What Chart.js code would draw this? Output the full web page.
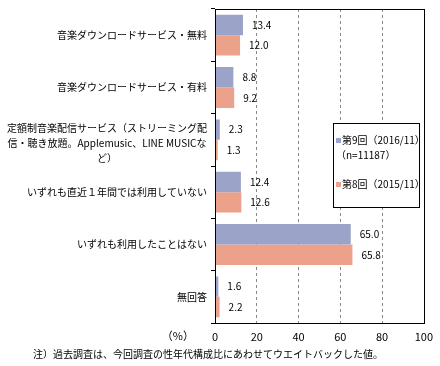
<!DOCTYPE html>
<html>
<head>
<meta charset="utf-8">
<script src="https://cdn.jsdelivr.net/npm/chart.js@4/dist/chart.umd.min.js"></script>
<style>
  body { margin: 0; background: #fff; }
  #wrap { position: relative; width: 440px; height: 366px; }
  #legend {
    position: absolute; left: 333px; top: 123px; width: 85px; height: 83px;
    border: 1px solid #000; background: #fff;
    font: 10px "Noto Sans CJK JP", sans-serif; color: #000;
  }
  #legend .item { position: absolute; left: 2px; line-height: 15px; white-space: nowrap; }
  #legend .sw { display: inline-block; width: 5px; height: 5px; margin-right: 1px; vertical-align: 1px; }
</style>
</head>
<body>
<div id="wrap">
  <canvas id="chart" width="440" height="366"></canvas>
  <div id="legend"></div>
</div>
<script>
// categories (top to bottom)
var categories = [
    '音楽ダウンロードサービス・無料',
    '音楽ダウンロードサービス・有料',
    ['定額制音楽配信サービス（ストリーミング配', '信・聴き放題。Applemusic、LINE MUSICな', 'ど）'],
    'いずれも直近１年間では利用していない',
    'いずれも利用したことはない',
    '無回答'
];
var seriesNames = [['第9回（2016/11）', '（n=11187）'], ['第8回（2015/11）']];
var round9 = [13.4, 8.8, 2.3, 12.4, 65.0, 1.6];
var round8 = [12.0, 9.2, 1.3, 12.6, 65.8, 2.2];
var xTicks = [0, 20, 40, 60, 80, 100];
var colors = ['#9BA3C9', '#ECA18B'];
var note = '注）過去調査は、今回調査の性年代構成比にあわせてウエイトバックした値。';

var FONT = '"Noto Sans CJK JP", sans-serif';

// legend in the plot (html)
var lg = document.getElementById('legend');
var tops = [8, 52];
seriesNames.forEach(function (lines, i) {
    var d = document.createElement('div');
    d.className = 'item';
    d.style.top = tops[i] + 'px';
    d.innerHTML = '<span class="sw" style="background:' + colors[i] + '"></span>' + lines.join('<br>');
    lg.appendChild(d);
});

var extras = {
    id: 'extras',
    afterDatasetsDraw: function (chart) {
        var ctx = chart.ctx, a = chart.chartArea, ys = chart.scales.y;
        ctx.save();
        // frame
        ctx.strokeStyle = '#000';
        ctx.lineWidth = 1;
        ctx.strokeRect(Math.round(a.left) + 0.5, Math.round(a.top) + 0.5,
            Math.round(a.right - a.left), Math.round(a.bottom - a.top));
        ctx.fillStyle = '#000';
        ctx.textBaseline = 'middle';
        // category labels (multi-line ones are centred as a block)
        ctx.font = '10px ' + FONT;
        var rightX = a.left - 8;
        chart.data.labels.forEach(function (lab, i) {
            var lines = Array.isArray(lab) ? lab : [lab];
            var cy = ys.getPixelForValue(i);
            if (lines.length === 1) {
                ctx.textAlign = 'right';
                ctx.fillText(lines[0], rightX, cy);
                return;
            }
            var w = Math.max.apply(null, lines.map(function (l) { return ctx.measureText(l).width; }));
            var cx = rightX - w / 2, lh = 15;
            ctx.textAlign = 'center';
            lines.forEach(function (l, k) {
                ctx.fillText(l, cx, cy + 3 + (k - (lines.length - 1) / 2) * lh);
            });
        });
        // values
        ctx.textAlign = 'left';
        chart.data.datasets.forEach(function (ds, di) {
            chart.getDatasetMeta(di).data.forEach(function (bar, i) {
                ctx.fillText(ds.data[i].toFixed(1), bar.x + 9, bar.y);
            });
        });
        // unit + note
        ctx.font = '11px ' + FONT;
        ctx.textAlign = 'right';
        ctx.fillText('（%）', 194, 336);
        ctx.font = '10px ' + FONT;
        ctx.textAlign = 'left';
        ctx.fillText(note, 33, 354);
        ctx.restore();
    }
};

new Chart(document.getElementById('chart'), {
    type: 'bar',
    data: {
        labels: categories,
        datasets: [
            {label: seriesNames[0].join(''), data: round9, backgroundColor: colors[0]},
            {label: seriesNames[1].join(''), data: round8, backgroundColor: colors[1]}
        ]
    },
    options: {
        indexAxis: 'y',
        responsive: false,
        animation: false,
        layout: {padding: {left: 0, right: 9, top: 9, bottom: 21}},
        datasets: {bar: {categoryPercentage: 0.78, barPercentage: 1}},
        plugins: {legend: {display: false}, tooltip: {enabled: false}},
        scales: {
            x: {
                min: 0, max: 100,
                afterBuildTicks: function (s) { s.ticks = xTicks.map(function (v) { return {value: v}; }); },
                afterFit: function (s) { s.height = 22; },
                grid: {
                    drawTicks: false,
                    color: function (c) { return (c.tick && (c.tick.value === 0 || c.tick.value === 100)) ? 'rgba(0,0,0,0)' : '#888'; }
                },
                border: {display: true, color: '#000', dash: [3, 3]},
                ticks: {color: '#000', padding: 7, font: {family: FONT, size: 11}}
            },
            y: {
                afterFit: function (s) { s.width = 215; },
                grid: {offset: true, drawOnChartArea: false, drawTicks: true, tickLength: 4, color: '#000'},
                border: {display: true, color: '#000'},
                ticks: {display: false}
            }
        }
    },
    plugins: [extras]
});
</script>
</body>
</html>
